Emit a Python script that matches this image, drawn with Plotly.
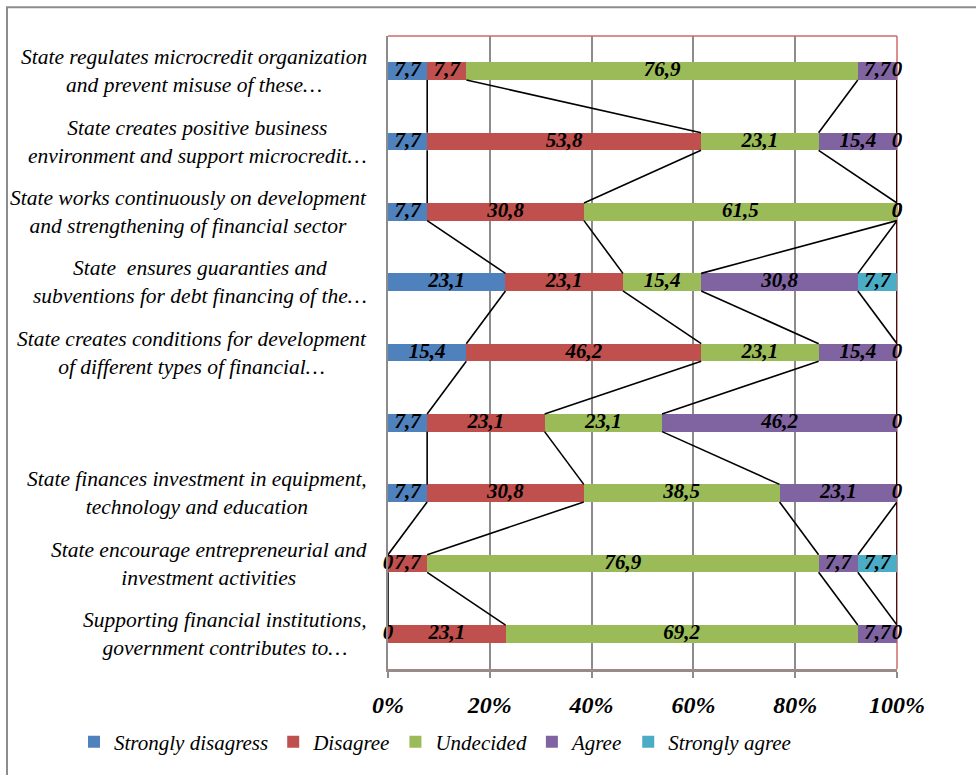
import plotly.graph_objects as go

# ---------------- data ----------------
categories = [
    "State regulates microcredit organization<br>and prevent misuse of these…",
    "State creates positive business<br>environment and support microcredit…",
    "State works continuously on development<br>and strengthening of financial sector",
    "State  ensures guaranties and<br>subventions for debt financing of the…",
    "State creates conditions for development<br>of different types of financial…",
    "",
    "State finances investment in equipment,<br>technology and education",
    "State encourage entrepreneurial and<br>investment activities",
    "Supporting financial institutions,<br>government contributes to…",
]
strongly_disagree = [7.7, 7.7, 7.7, 23.1, 15.4, 7.7, 7.7, 0, 0]
disagree = [7.7, 53.8, 30.8, 23.1, 46.2, 23.1, 30.8, 7.7, 23.1]
undecided = [76.9, 23.1, 61.5, 15.4, 23.1, 23.1, 38.5, 76.9, 69.2]
agree = [7.7, 15.4, 0, 30.8, 15.4, 46.2, 23.1, 7.7, 7.7]
strongly_agree = [0, 0, 0, 7.7, 0, 0, 0, 7.7, 0]
series_names = ["Strongly disagress", "Disagree", "Undecided", "Agree", "Strongly agree"]
x_tick_values = [0, 20, 40, 60, 80, 100]
x_tick_text = ["0%", "20%", "40%", "60%", "80%", "100%"]

# ---------------- styles ----------------
colors = ["#4F81BD", "#C0504D", "#9BBB59", "#8064A2", "#4BACC6"]
SERIF = "Times New Roman, Liberation Serif, Tinos, DejaVu Serif, serif"
W, H = 976, 775
L, R, T, B = 388, 79, 36, 98
PW, PH = W - L - R, H - T - B
BAR_W = 0.25

series = [strongly_disagree, disagree, undecided, agree, strongly_agree]
n = len(categories)
rows = list(range(n))
totals = [sum(s[i] for s in series) for i in rows]

# normalized cumulative ends / midpoints
ends, mids = [], []
for k, s in enumerate(series):
    e, m = [], []
    for i in rows:
        start = sum(series[j][i] for j in range(k)) / totals[i] * 100
        end = start + s[i] / totals[i] * 100
        e.append(end)
        m.append((start + end) / 2)
    ends.append(e)
    mids.append(m)

fig = go.Figure()

for k, s in enumerate(series):
    fig.add_trace(go.Bar(
        orientation="h", x=s, y=rows, name=series_names[k],
        marker=dict(color=colors[k], line=dict(width=0)),
        width=BAR_W, hoverinfo="skip",
    ))

# series lines
hw = BAR_W / 2
for k in range(len(series)):
    xs, ys = [], []
    for i in range(n - 1):
        xs += [ends[k][i], ends[k][i + 1], None]
        ys += [i + hw, i + 1 - hw, None]
    fig.add_trace(go.Scatter(
        x=xs, y=ys, mode="lines", line=dict(color="black", width=1.6),
        showlegend=False, hoverinfo="skip", cliponaxis=False,
    ))

# data labels
for k, s in enumerate(series):
    fig.add_trace(go.Scatter(
        x=mids[k], y=rows, mode="text",
        text=[f"{v:g}".replace(".", ",") for v in s],
        textposition="middle center",
        textfont=dict(family=SERIF, size=21, color="black", weight="bold", style="italic"),
        showlegend=False, hoverinfo="skip", cliponaxis=False,
    ))

# category labels
annotations = []
for i, c in enumerate(categories):
    if not c:
        continue
    annotations.append(dict(
        x=-19 / PW, xref="paper", y=i, yref="y", text=c, showarrow=False,
        xanchor="right", yanchor="middle", align="center",
        font=dict(family=SERIF, size=21.5, color="black", style="italic"),
    ))

def px_x(p):
    return (p - L) / PW

def px_y(p):
    return (H - B - p) / PH

shapes = [
    # outer chart frame
    dict(type="rect", xref="paper", yref="paper", x0=px_x(7), x1=px_x(1000),
         y0=px_y(800), y1=px_y(7), line=dict(color="#8c8c8c", width=2), layer="below"),
    # red top & right borders of plot area
    dict(type="line", xref="paper", yref="paper", x0=0, x1=1, y0=1, y1=1,
         line=dict(color="#D06A6A", width=1.5)),
    dict(type="line", xref="paper", yref="paper", x0=1, x1=1, y0=0, y1=1,
         line=dict(color="#D06A6A", width=1.5), layer="below"),
]

fig.update_layout(
    width=W, height=H,
    margin=dict(l=L, r=R, t=T, b=B),
    paper_bgcolor="white", plot_bgcolor="white",
    barmode="stack", barnorm="percent",
    bargap=0,
    showlegend=True,
    legend=dict(
        orientation="h", x=px_x(74), xanchor="left", y=px_y(751), yanchor="middle",
        font=dict(family=SERIF, size=21, color="black", style="italic"),
        traceorder="normal", bgcolor="rgba(0,0,0,0)",
    ),
    xaxis=dict(
        range=[0, 100], tickmode="array", tickvals=x_tick_values, ticktext=x_tick_text,
        showgrid=True, gridcolor="#8c8c8c", gridwidth=1.5,
        zeroline=False,
        showline=True, linecolor="#9a8a8a", linewidth=2.5,
        ticks="outside", ticklen=6, tickcolor="#8c8c8c", tickwidth=1.5,
        ticklabelstandoff=6,
        tickfont=dict(family=SERIF, size=24, color="black", weight="bold", style="italic"),
        fixedrange=True,
    ),
    yaxis=dict(
        range=[n - 0.5, -0.5], showticklabels=False, showgrid=False,
        zeroline=False, showline=True, linecolor="#8c8c8c", linewidth=2,
        fixedrange=True,
    ),
    annotations=annotations,
    shapes=shapes,
)

fig.write_html("out.html")
